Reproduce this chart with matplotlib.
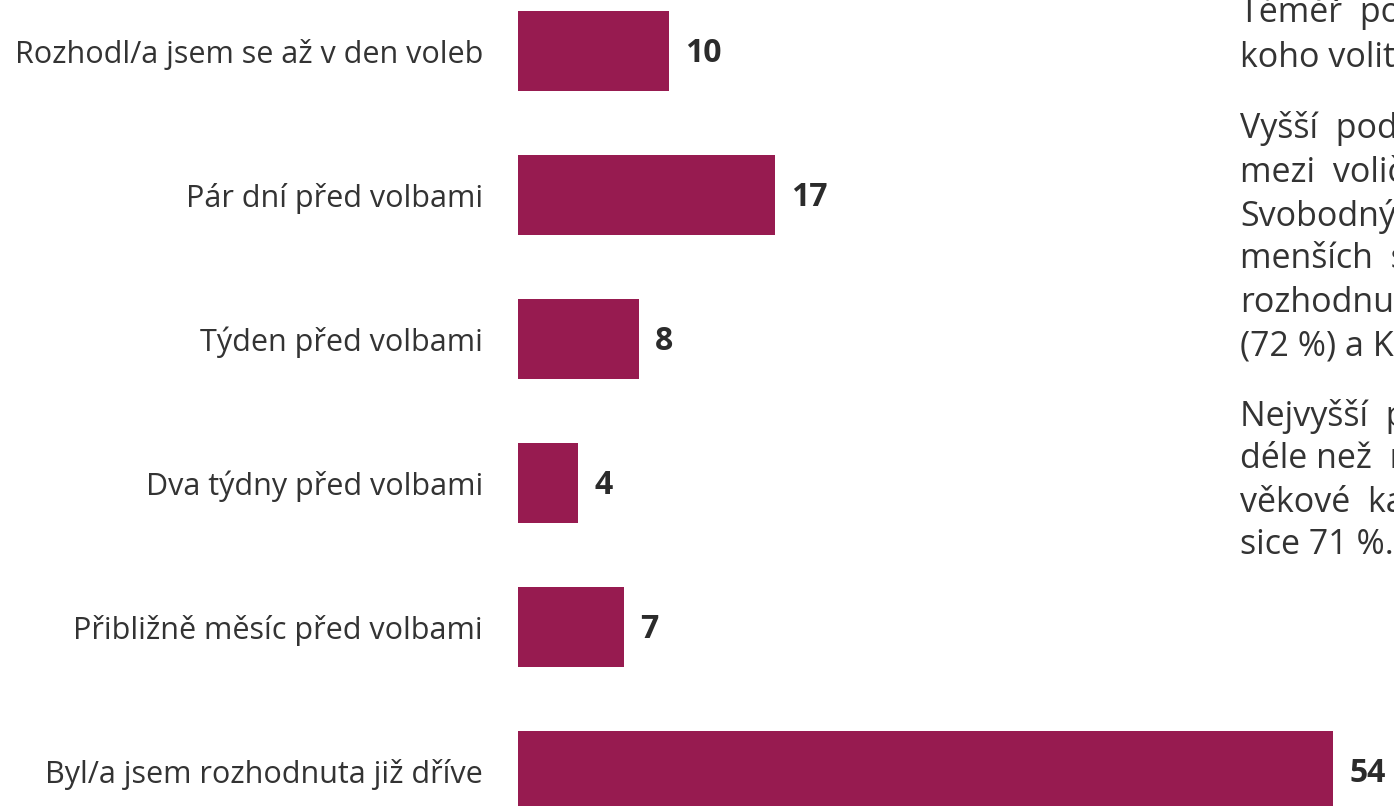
import matplotlib
matplotlib.use("Agg")
import matplotlib.pyplot as plt

categories = [
    "Rozhodl/a jsem se až v den voleb",
    "Pár dní před volbami",
    "Týden před volbami",
    "Dva týdny před volbami",
    "Přibližně měsíc před volbami",
    "Byl/a jsem rozhodnuta již dříve",
]
values = [10, 17, 8, 4, 7, 54]

side_text = [
    "Téměř  polovina",
    "koho volit",
    "Vyšší  podíl",
    "mezi  voliči",
    "Svobodných",
    "menších  stran",
    "rozhodnutých",
    "(72 %) a KSČM",
    "Nejvyšší  podíl",
    "déle než  měsíc",
    "věkové  kategorie",
    "sice 71 %.",
]
side_y = [13, 58, 129, 173, 216, 259, 302, 345, 416, 459, 502, 545]

plt.rcParams['font.family'] = ['Open Sans', 'DejaVu Sans']

W, H = 1394, 806
fig = plt.figure(figsize=(W / 100, H / 100), dpi=100)
x0 = 518
px_per_unit = 15.1
ax = fig.add_axes([x0 / W, 0, 1 - x0 / W, 1])
ax.set_xlim(0, (W - x0) / px_per_unit)
ax.set_ylim((H - 51) / 144, -51 / 144)

color = "#971B50"
ypos = list(range(len(categories)))
ax.barh(ypos, values, height=80 / 144, color=color)

for y, v in zip(ypos, values):
    ax.text(v + 16 / px_per_unit, y + 0.015, str(v), ha="left", va="center",
            fontsize=23, fontweight="bold", color="#2b2b2b", clip_on=False)

ax.set_yticks(ypos)
ax.set_yticklabels(categories, fontsize=22, color="#333333")
ax.tick_params(axis="y", length=0, pad=(x0 - 483) * 0.72)
ax.set_xticks([])
for s in ax.spines.values():
    s.set_visible(False)

for t, y in zip(side_text, side_y):
    fig.text(1240 / W, 1 - y / H, t, ha="left", va="center",
             fontsize=24.5, color="#333333")

fig.savefig("out.png", dpi=100)
